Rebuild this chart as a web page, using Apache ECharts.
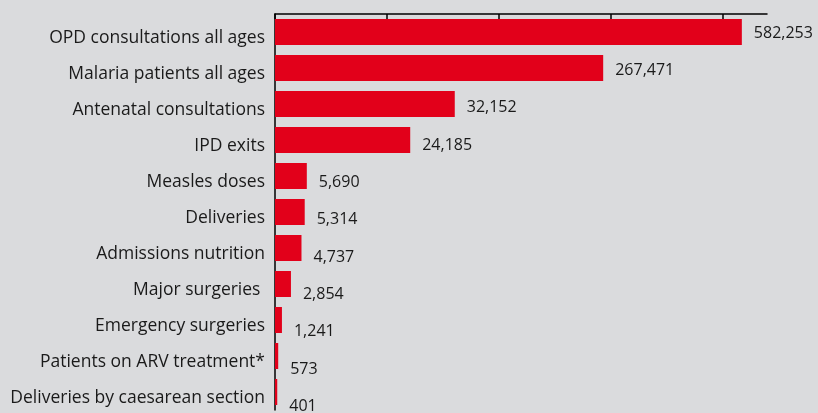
<!DOCTYPE html>
<html>
<head>
<meta charset="utf-8">
<script src="https://cdn.jsdelivr.net/npm/echarts@6/dist/echarts.min.js"></script>
<style>
  html, body { margin: 0; padding: 0; background: #dadbdd; }
  #chart { width: 818px; height: 413px; }
</style>
</head>
<body>
<div id="chart"></div>
<script>
const categories = [
  'OPD consultations all ages',
  'Malaria patients all ages',
  'Antenatal consultations',
  'IPD exits',
  'Measles doses',
  'Deliveries',
  'Admissions nutrition',
  'Major surgeries ',
  'Emergency surgeries',
  'Patients on ARV treatment*',
  'Deliveries by caesarean section'
];
const values = [582253, 267471, 32152, 24185, 5690, 5314, 4737, 2854, 1241, 573, 401];
// the two largest bars are drawn cut off (broken scale) at these lengths, in axis units
const cutBarLengths = [83500, 58700];
const axisTicks = [0, 20000, 40000, 60000, 80000];

const FONT = '"Open Sans"';
const chart = echarts.init(document.getElementById('chart'), null, { renderer: 'canvas' });

const seriesData = values.map((v, i) => ({
  value: i < cutBarLengths.length ? cutBarLengths[i] : v,
  realValue: v,
  label: { offset: [0, 1 + i * 1.35] }
}));

chart.setOption({
  backgroundColor: '#dadbdd',
  animation: false,
  grid: { left: 275, right: 51, top: 14, bottom: 3, containLabel: false },
  xAxis: {
    type: 'value',
    position: 'top',
    min: 0,
    max: 88000,
    interval: 20000,
    axisLine: { show: true, lineStyle: { color: '#000', width: 1.5 } },
    axisTick: { show: true, inside: true, length: 5, customValues: axisTicks, lineStyle: { color: '#000', width: 1.5 } },
    axisLabel: { show: false },
    splitLine: { show: false }
  },
  yAxis: {
    type: 'category',
    inverse: true,
    data: categories,
    axisLine: { show: true, lineStyle: { color: '#000', width: 1.5 } },
    axisTick: { show: false },
    axisLabel: {
      margin: 10,
      formatter: v => '{c|' + v + '}',
      rich: {
        c: {
          color: '#1a1a1a',
          fontFamily: FONT,
          fontSize: 17.5,
          padding: [12, 0, 0, 0]
        }
      }
    }
  },
  series: [{
    type: 'bar',
    data: seriesData,
    barWidth: 26,
    itemStyle: { color: '#e2001a' },
    label: {
      show: true,
      position: 'right',
      distance: 12,
      color: '#1a1a1a',
      fontFamily: FONT,
      fontSize: 16,
      formatter: p => p.data.realValue.toLocaleString('en-US')
    }
  }]
});
</script>
</body>
</html>
